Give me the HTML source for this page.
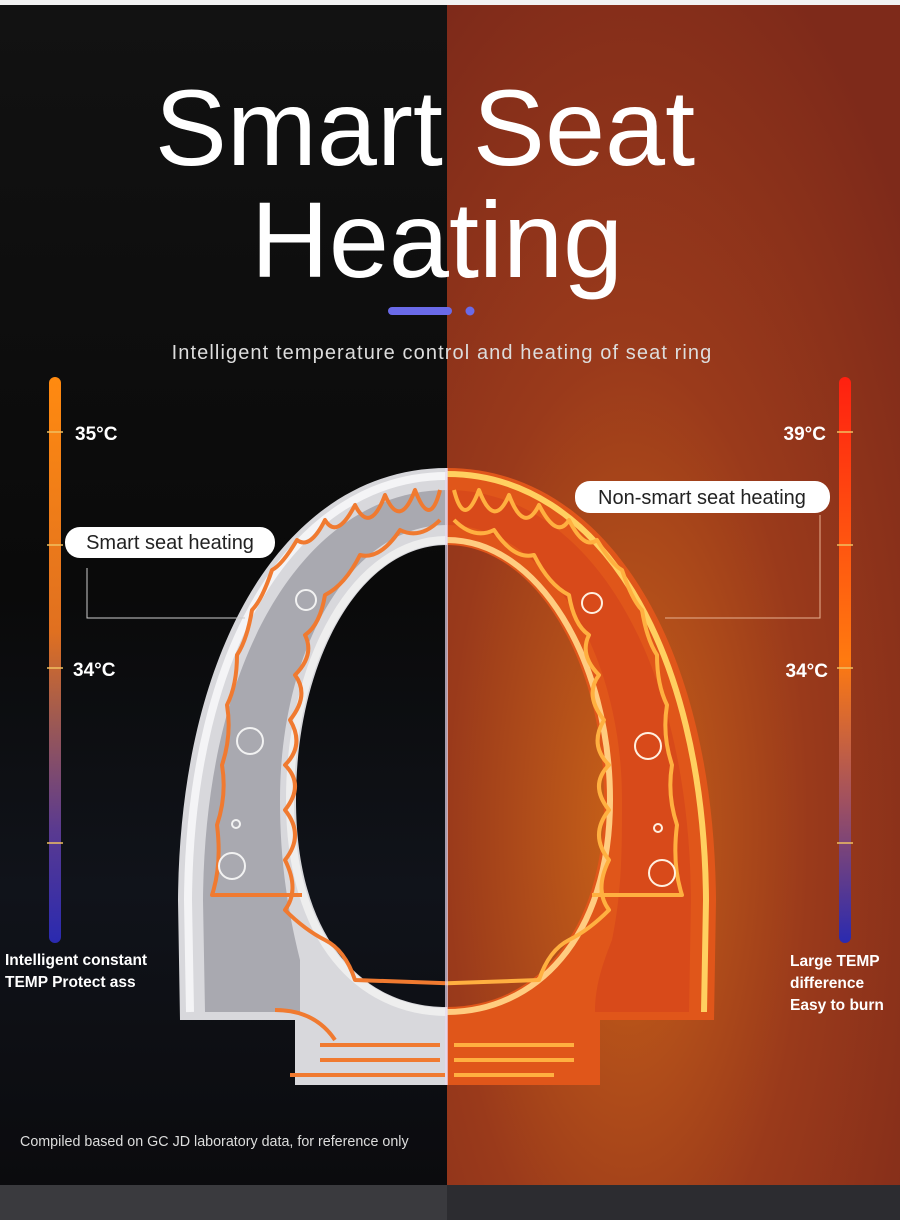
<!DOCTYPE html>
<html><head><meta charset="utf-8"><style>
html,body{margin:0;padding:0;width:900px;height:1220px;overflow:hidden;background:#000;font-family:"Liberation Sans",sans-serif}
</style></head><body>
<svg width="900" height="1220" viewBox="0 0 900 1220" xmlns="http://www.w3.org/2000/svg">
<defs>
<linearGradient id="lbg" x1="0" y1="0" x2="0" y2="1"><stop offset="0" stop-color="#121212"/><stop offset="0.5" stop-color="#0a0a0a"/><stop offset="0.75" stop-color="#10131a"/><stop offset="1" stop-color="#0b0b0e"/></linearGradient>
<radialGradient id="rbg" cx="0.4" cy="0.7" r="0.8"><stop offset="0" stop-color="#c96218"/><stop offset="0.5" stop-color="#9a3a1b"/><stop offset="1" stop-color="#7e2a1a"/></radialGradient>
<linearGradient id="lbar" x1="0" y1="0" x2="0" y2="1"><stop offset="0" stop-color="#ff8a10"/><stop offset="0.45" stop-color="#e07020"/><stop offset="0.6" stop-color="#a05a50"/><stop offset="0.8" stop-color="#5a3a90"/><stop offset="1" stop-color="#2a2ab0"/></linearGradient>
<linearGradient id="rbar" x1="0" y1="0" x2="0" y2="1"><stop offset="0" stop-color="#ff2010"/><stop offset="0.5" stop-color="#ff7a10"/><stop offset="0.75" stop-color="#a05060"/><stop offset="1" stop-color="#2a2ab0"/></linearGradient>
<clipPath id="lc"><rect x="0" y="0" width="447" height="1220"/></clipPath>
<clipPath id="rc"><rect x="447" y="0" width="453" height="1220"/></clipPath>
</defs>
<rect x="0" y="0" width="447" height="1185" fill="url(#lbg)"/>
<rect x="447" y="0" width="453" height="1185" fill="url(#rbg)"/>
<rect x="0" y="0" width="900" height="5" fill="#f2f2f2"/>
<rect x="0" y="1185" width="900" height="35" fill="#3a3a3e"/>
<rect x="447" y="1185" width="453" height="35" fill="#2c2c30"/>

<text x="425" y="165" text-anchor="middle" font-size="108" fill="#fff">Smart Seat</text>
<text x="437" y="277" text-anchor="middle" font-size="108" fill="#fff">Heating</text>
<rect x="388" y="307" width="64" height="8" rx="4" fill="#6a6ae8"/>
<circle cx="470" cy="311" r="4.5" fill="#6a6ae8"/>
<text x="442" y="359" text-anchor="middle" font-size="20" fill="#ddd" letter-spacing="1.1">Intelligent temperature control and heating of seat ring</text>

<!-- bars -->
<rect x="49" y="377" width="12" height="566" rx="6" fill="url(#lbar)"/>
<g stroke="#f0c060" stroke-width="1.5"><line x1="47" y1="432" x2="63" y2="432"/><line x1="47" y1="545" x2="63" y2="545"/><line x1="47" y1="668" x2="63" y2="668"/><line x1="47" y1="843" x2="63" y2="843"/></g>
<text x="75" y="440" font-size="19" font-weight="bold" fill="#fff">35°C</text>
<text x="73" y="676" font-size="19" font-weight="bold" fill="#fff">34°C</text>
<rect x="839" y="377" width="12" height="566" rx="6" fill="url(#rbar)"/>
<g stroke="#f0c060" stroke-width="1.5"><line x1="837" y1="432" x2="853" y2="432"/><line x1="837" y1="545" x2="853" y2="545"/><line x1="837" y1="668" x2="853" y2="668"/><line x1="837" y1="843" x2="853" y2="843"/></g>
<text x="826" y="440" text-anchor="end" font-size="19" font-weight="bold" fill="#fff">39°C</text>
<text x="828" y="677" text-anchor="end" font-size="19" font-weight="bold" fill="#fff">34°C</text>

<!-- seat left -->
<g clip-path="url(#lc)">
<path fill-rule="evenodd" d="M447,468 C290,468 180,640 178,900 L180,1020 L295,1020 L295,1085 L600,1085 L600,1020 L714,1020 L716,900 C714,640 604,468 447,468 Z M447,545 C360,545 296,660 296,800 C296,935 360,1007 447,1007 C534,1007 604,935 604,800 C604,660 534,545 447,545 Z" fill="#d8d8dc"/>
<path fill="none" stroke="#f4f4f6" stroke-width="8" d="M447,476 C296,476 190,645 188,900 L190,1012"/>
<path fill="none" stroke="#eeeeee" stroke-width="8" d="M447,540 C356,540 290,660 290,800 C290,940 360,1012 447,1012"/>
<path fill="#a9a9b0" d="M447,490 C310,490 205,650 203,900 L205,1012 L300,1012 C300,1012 300,980 300,960 C285,900 280,850 280,800 C280,650 350,525 447,525 Z"/>
<g fill="none" stroke="#f07a30" stroke-width="4" stroke-linejoin="round">
<path d="M440,490 q-10,40 -25,0 q-15,40 -30,5 q-15,40 -30,10 q-18,35 -30,15 q-15,30 -28,20 q-15,25 -25,30 q-10,30 -20,40 q-5,30 -15,45 q0,30 -10,50 q5,30 -5,60 q5,30 -5,60 q5,40 -5,70 l90,0"/>
<path d="M440,520 q-20,20 -40,10 q-20,30 -40,25 q-15,30 -35,40 q-5,30 -20,40 q10,20 -10,40 q15,20 -5,45 q15,25 -5,45 q20,20 0,45 q20,25 0,50 q15,30 0,50 q20,20 40,30 q20,10 30,40 l140,5"/>
<path d="M320,1060 l120,0 M320,1045 l120,0 M290,1075 l155,0 M275,1010 q40,0 60,30"/>
</g>
<g fill="none" stroke="#f2f2f2" stroke-width="2"><circle cx="306" cy="600" r="10"/><circle cx="250" cy="741" r="13"/><circle cx="232" cy="866" r="13"/><circle cx="236" cy="824" r="4"/></g>
</g>

<!-- seat right -->
<g clip-path="url(#rc)">
<path fill-rule="evenodd" d="M447,468 C290,468 180,640 178,900 L180,1020 L295,1020 L295,1085 L600,1085 L600,1020 L714,1020 L716,900 C714,640 604,468 447,468 Z M447,545 C360,545 296,660 296,800 C296,935 360,1007 447,1007 C534,1007 604,935 604,800 C604,660 534,545 447,545 Z" fill="#e0561a"/>
<path fill="none" stroke="#ffd060" stroke-width="6" d="M447,474 C598,474 704,645 706,900 L704,1012"/>
<path fill="none" stroke="#ffcc80" stroke-width="6" d="M447,540 C538,540 610,660 610,800 C610,940 534,1012 447,1012"/>
<path fill="#d84a1a" d="M447,490 C584,490 689,650 691,900 L689,1012 L595,1012 C595,990 600,970 612,940 C622,890 622,850 622,800 C622,650 544,525 447,525 Z"/>
<g fill="none" stroke="#ffb040" stroke-width="4" stroke-linejoin="round">
<path d="M454,490 q10,40 25,0 q15,40 30,5 q15,40 30,10 q18,35 30,15 q15,30 28,20 q15,25 25,30 q10,30 20,40 q5,30 15,45 q0,30 10,50 q-5,30 5,60 q-5,30 5,60 q-5,40 5,70 l-90,0"/>
<path d="M454,520 q20,20 40,10 q20,30 40,25 q15,30 35,40 q5,30 20,40 q-10,20 10,40 q-15,20 5,45 q-15,25 5,45 q-20,20 0,45 q-20,25 0,50 q-15,30 0,50 q-20,20 -40,30 q-20,10 -30,40 l-140,5"/>
<path d="M454,1060 l120,0 M454,1045 l120,0 M454,1075 l100,0"/>
</g>
<g fill="none" stroke="#fff0e0" stroke-width="2"><circle cx="592" cy="603" r="10"/><circle cx="648" cy="746" r="13"/><circle cx="662" cy="873" r="13"/><circle cx="658" cy="828" r="4"/></g>
</g>
<rect x="445" y="468" width="3" height="617" fill="#e8d8f0" opacity="0.7"/>

<!-- callouts -->
<polyline points="87,568 87,618 245,618" fill="none" stroke="#ccc" stroke-width="1"/>
<rect x="65" y="527" width="210" height="31" rx="15" fill="#fff"/>
<text x="170" y="549" text-anchor="middle" font-size="20" fill="#222">Smart seat heating</text>
<polyline points="820,515 820,618 665,618" fill="none" stroke="#e8b090" stroke-width="1"/>
<rect x="575" y="481" width="255" height="32" rx="15" fill="#fff"/>
<text x="702" y="504" text-anchor="middle" font-size="20" fill="#222">Non-smart seat heating</text>

<g font-size="15.5" font-weight="bold" fill="#fff">
<text x="5" y="965">Intelligent constant</text>
<text x="5" y="987">TEMP Protect ass</text>
<text x="790" y="966">Large TEMP</text>
<text x="790" y="988">difference</text>
<text x="790" y="1010">Easy to burn</text>
</g>
<text x="20" y="1146" font-size="14.3" fill="#ddd">Compiled based on GC JD laboratory data, for reference only</text>
</svg>
</body></html>
